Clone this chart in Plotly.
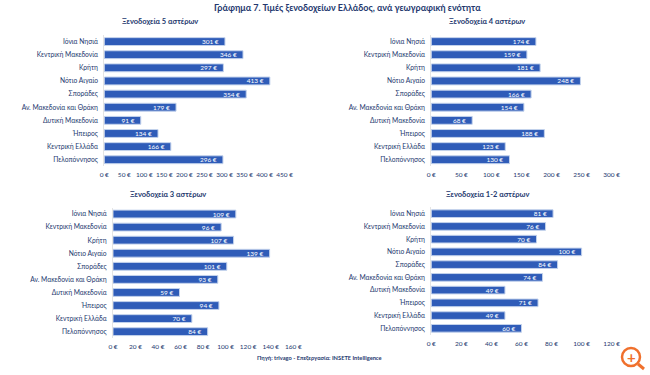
import plotly.graph_objects as go

regions = ["Ιόνια Νησιά", "Κεντρική Μακεδονία", "Κρήτη", "Νότιο Αιγαίο", "Σποράδες",
           "Αν. Μακεδονία και Θράκη", "Δυτική Μακεδονία", "Ήπειρος", "Κεντρική Ελλάδα", "Πελοπόννησος"]
stars5 = [301, 346, 297, 413, 354, 179, 91, 134, 166, 296]
stars4 = [174, 159, 181, 248, 166, 154, 68, 188, 123, 130]
stars3 = [109, 96, 107, 139, 101, 93, 59, 94, 70, 84]
stars12 = [81, 76, 70, 100, 84, 74, 49, 71, 49, 60]

title = "Γράφημα 7. Τιμές ξενοδοχείων Ελλάδος, ανά γεωγραφική ενότητα"
source = "Πηγή: trivago - Επεξεργασία: INSETE Intelligence"
W, H = 650, 375
NAVY = "#24386e"
FONT = "Lato"

panels = [
    ("Ξενοδοχεία 5 αστέρων", stars5, 450, 50, (104.3, 284.7), (35, 166.3), 160, 22, 174),
    ("Ξενοδοχεία 4 αστέρων", stars4, 300, 50, (431.3, 611.7), (35, 166.3), 487, 22, 174),
    ("Ξενοδοχεία 3 αστέρων", stars3, 160, 20, (113, 293.3), (207.5, 338.2), 168, 194, 345.7),
    ("Ξενοδοχεία 1-2 αστέρων", stars12, 120, 20, (431.3, 611.7), (207.3, 334.7), 487, 194, 342.7),
]

fig = go.Figure()
annotations = []
layout_axes = {}
for i, (name, vals, xmax, dtick, xr, yr, tx, ty, tick_y) in enumerate(panels, start=1):
    fig.add_trace(go.Bar(
        y=regions, x=vals, orientation="h", xaxis=f"x{i}", yaxis=f"y{i}",
        width=0.6, showlegend=False,
        marker=dict(color="#2f5cb8", line=dict(color="#c3d2ec", width=1)),
        text=[f"{v} €\u00a0\u00a0" for v in vals], textposition="inside", insidetextanchor="end",
        textangle=0, constraintext="none",
        textfont=dict(family=FONT, size=6.5, color="#ffffff"),
    ))
    layout_axes[f"xaxis{i}"] = dict(
        domain=[xr[0] / W, xr[1] / W], range=[0, xmax], dtick=dtick, anchor=f"y{i}",
        ticksuffix=" €", showgrid=False, zeroline=False, showline=False, tickangle=0,
        automargin=False,
        ticks="outside", ticklen=tick_y - yr[1] - 6, tickcolor="rgba(0,0,0,0)",
        tickfont=dict(family=FONT, size=6.5, color=NAVY),
    )
    layout_axes[f"yaxis{i}"] = dict(
        domain=[1 - yr[1] / H, 1 - yr[0] / H], autorange="reversed", anchor=f"x{i}",
        showgrid=False, zeroline=False, showline=True, linecolor="#e4e4e4", linewidth=1,
        automargin=False,
        ticks="outside", ticklen=4, tickcolor="rgba(0,0,0,0)",
        tickfont=dict(family=FONT, size=6.7, color=NAVY),
    )
    annotations.append(dict(
        x=tx / W, y=1 - ty / H, xref="paper", yref="paper", text=f"<b>{name}</b>",
        xanchor="center", yanchor="middle",
        showarrow=False, font=dict(family=FONT, size=7.5, color=NAVY),
    ))

annotations.append(dict(
    x=347 / W, y=1 - 8 / H, xref="paper", yref="paper", text=f"<b>{title}</b>",
    xanchor="center", yanchor="middle",
    showarrow=False, font=dict(family=FONT, size=9, color=NAVY),
))
annotations.append(dict(
    x=319 / W, y=1 - 357 / H, xref="paper", yref="paper", text=f"<b>{source}</b>",
    xanchor="center", yanchor="middle",
    showarrow=False, font=dict(family=FONT, size=5.7, color=NAVY),
))
# zoom badge in the lower right corner
annotations.append(dict(
    x=631 / W, y=1 - 357 / H, xref="paper", yref="paper", text="<b>+</b>",
    xanchor="center", yanchor="middle",
    showarrow=False, font=dict(family=FONT, size=15, color="#f0702c"),
))

shapes = [
    dict(type="circle", xref="paper", yref="paper",
         x0=622 / W, x1=640 / W, y0=1 - 366 / H, y1=1 - 348 / H,
         line=dict(color="#f0702c", width=2.5), fillcolor="rgba(255,255,255,0.9)"),
    dict(type="line", xref="paper", yref="paper",
         x0=638 / W, x1=644 / W, y0=1 - 364 / H, y1=1 - 369 / H,
         line=dict(color="#f0702c", width=3)),
]

fig.update_layout(
    width=W, height=H, margin=dict(l=0, r=0, t=0, b=0),
    paper_bgcolor="#ffffff", plot_bgcolor="#ffffff",
    annotations=annotations, shapes=shapes, bargap=0.42,
    font=dict(family=FONT), **layout_axes,
)
fig.write_html("out.html", config={"displayModeBar": False},
               post_script="document.body.style.margin='0';window.dispatchEvent(new Event('resize'));")
